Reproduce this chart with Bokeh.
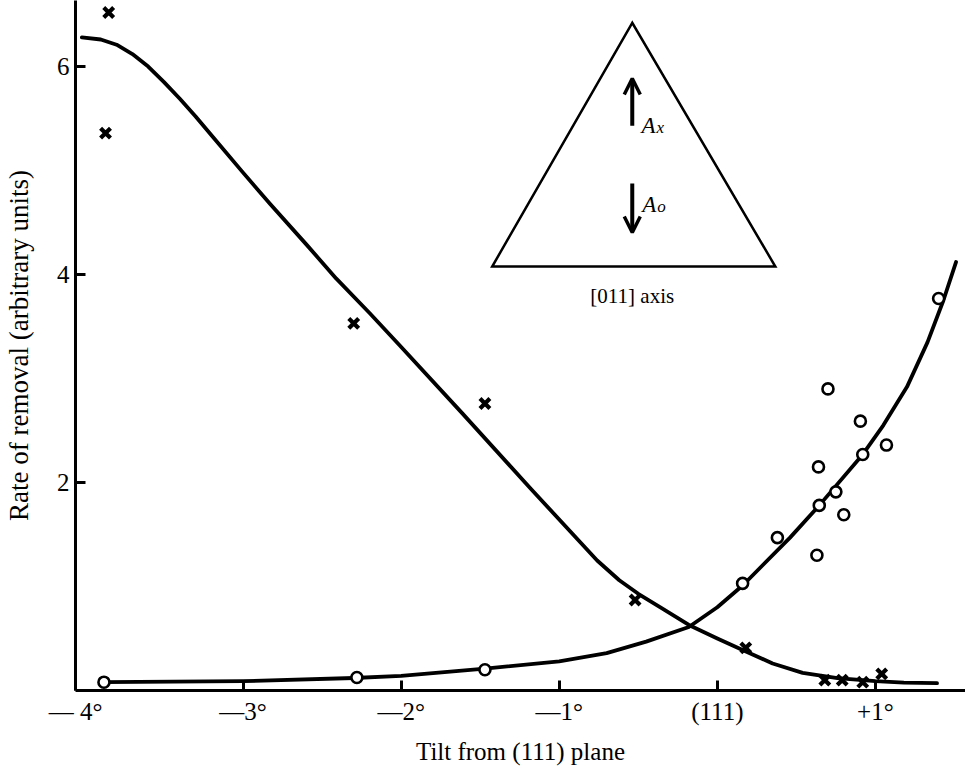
from bokeh.plotting import figure
from bokeh.models import FixedTicker, Label, Arrow, OpenHead, Range1d
from bokeh.embed import file_html
from bokeh.resources import INLINE

# ---- data ----
# crosses (A_x removal) and the fitted falling curve
cross_x = [-3.85, -3.87, -2.30, -1.47, -0.52, 0.18, 0.68, 0.79, 0.92, 1.04]
cross_y = [6.52, 5.36, 3.53, 2.76, 0.87, 0.41, 0.10, 0.10, 0.08, 0.16]

dec_x = [-4.02, -3.90, -3.80, -3.70, -3.60, -3.50, -3.40, -3.30, -3.20, -3.00,
         -2.83, -2.60, -2.41, -2.20, -2.01, -1.61, -1.18, -0.76, -0.62, -0.50,
         -0.36, -0.18, 0.0, 0.16, 0.35, 0.54, 0.76, 1.0, 1.18, 1.39]
dec_y = [6.28, 6.26, 6.21, 6.12, 6.00, 5.85, 5.69, 5.52, 5.34, 4.98,
         4.68, 4.29, 3.96, 3.63, 3.32, 2.66, 1.94, 1.25, 1.06, 0.93,
         0.80, 0.63, 0.50, 0.39, 0.26, 0.17, 0.12, 0.09, 0.075, 0.07]

# circles (A_o removal) and the fitted rising curve
circ_x = [-3.88, -2.28, -1.47, 0.16, 0.38, 0.63, 0.645, 0.64, 0.70, 0.75,
          0.80, 0.905, 0.92, 1.07, 1.40]
circ_y = [0.08, 0.125, 0.20, 1.03, 1.47, 1.30, 1.78, 2.15, 2.90, 1.91,
          1.69, 2.59, 2.27, 2.36, 3.77]

inc_x = [-3.88, -3.0, -2.3, -2.0, -1.47, -1.0, -0.7, -0.45, -0.18, 0.0,
         0.16, 0.46, 0.645, 0.92, 1.05, 1.20, 1.33, 1.43, 1.51]
inc_y = [0.08, 0.09, 0.12, 0.14, 0.21, 0.28, 0.36, 0.47, 0.61, 0.80,
         1.01, 1.47, 1.78, 2.27, 2.55, 2.92, 3.35, 3.75, 4.12]

# axis ticks
x_start, x_end = -4.06, 1.57
y_start, y_end = 0.0, 6.635
x_ticks = [x_start, -3, -2, -1, 0, 1]
x_tick_labels = ["— 4°", "—3°", "—2°", "—1°", "(111)", "+1°"]
y_ticks = [2, 4, 6]

# inset diagram (triangle with arrows)
tri_x = [-0.538, -1.424, 0.367]
tri_y = [6.42, 4.077, 4.077]
arrow_x = -0.538
up_arrow_y = [5.43, 5.885]
down_arrow_y = [4.875, 4.404]

SERIF = "Liberation Serif"

p = figure(width=965, height=772, output_backend="svg", toolbar_location=None,
           x_range=Range1d(x_start, x_end), y_range=Range1d(y_start, y_end),
           min_border_left=75, min_border_right=0, min_border_top=0,
           min_border_bottom=82)

p.outline_line_color = None
p.xgrid.grid_line_color = None
p.ygrid.grid_line_color = None
p.background_fill_color = "white"

for ax in (p.xaxis[0], p.yaxis[0]):
    ax.axis_line_width = 3
    ax.axis_line_color = "black"
    ax.major_tick_line_width = 3
    ax.major_tick_line_color = "black"
    ax.major_tick_in = 10
    ax.major_tick_out = 0
    ax.minor_tick_line_color = None
    ax.major_label_text_font = SERIF
    ax.major_label_text_font_size = "25px"
    ax.major_label_text_color = "black"
    ax.axis_label_text_font = SERIF
    ax.axis_label_text_font_style = "normal"
    ax.axis_label_text_color = "black"

p.xaxis.ticker = FixedTicker(ticks=x_ticks)
p.xaxis.major_label_overrides = {t: s for t, s in zip(x_ticks, x_tick_labels)}
p.xaxis.major_label_standoff = 7
p.xaxis.axis_label = "Tilt from (111) plane"
p.xaxis.axis_label_text_font_size = "25px"
p.xaxis.axis_label_standoff = 10

p.yaxis.ticker = FixedTicker(ticks=y_ticks)
p.yaxis.major_label_standoff = 6
p.yaxis.axis_label = "Rate of removal (arbitrary units)"
p.yaxis.axis_label_text_font_size = "27px"
p.yaxis.axis_label_standoff = 20

# curves
p.line(dec_x, dec_y, line_width=3.8, color="black", line_join="round", line_cap="round")
p.line(inc_x, inc_y, line_width=3.8, color="black", line_join="round", line_cap="round")

# points
p.scatter(cross_x, cross_y, marker="x", size=14, line_width=4.2, color="black")
p.scatter(circ_x, circ_y, marker="circle", size=11, line_width=2.6,
          line_color="black", fill_color="white")

# inset triangle
p.patch(tri_x, tri_y, fill_color=None, line_color="black", line_width=2.5,
        line_join="miter")
p.add_layout(Arrow(x_start=arrow_x, y_start=up_arrow_y[0], x_end=arrow_x, y_end=up_arrow_y[1],
                   line_width=4, line_color="black",
                   end=OpenHead(size=16, line_width=3.5, line_color="black")))
p.add_layout(Arrow(x_start=arrow_x, y_start=down_arrow_y[0], x_end=arrow_x, y_end=down_arrow_y[1],
                   line_width=4, line_color="black",
                   end=OpenHead(size=16, line_width=3.5, line_color="black")))

p.add_layout(Label(x=-0.48, y=5.43, text="A", text_font=SERIF, text_font_style="italic",
                   text_font_size="23px", text_baseline="alphabetic", text_color="black"))
p.add_layout(Label(x=-0.48, y=5.413, x_offset=15, text="x", text_font=SERIF,
                   text_font_style="italic", text_font_size="17px",
                   text_baseline="alphabetic", text_color="black"))
p.add_layout(Label(x=-0.475, y=4.673, text="A", text_font=SERIF, text_font_style="italic",
                   text_font_size="23px", text_baseline="alphabetic", text_color="black"))
p.add_layout(Label(x=-0.475, y=4.654, x_offset=15, text="o", text_font=SERIF,
                   text_font_style="italic", text_font_size="17px",
                   text_baseline="alphabetic", text_color="black"))
p.add_layout(Label(x=arrow_x, y=3.79, text="[011] axis", text_align="center",
                   text_baseline="middle", text_font=SERIF, text_font_size="21px",
                   text_color="black"))

open("out.html", "w").write(file_html(p, INLINE))
